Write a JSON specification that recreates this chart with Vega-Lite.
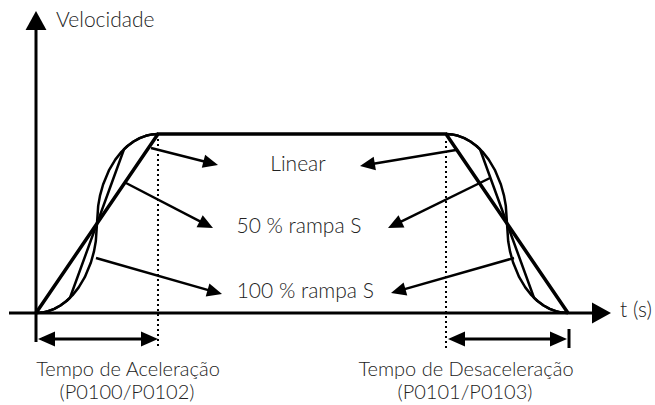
{
  "$schema": "https://vega.github.io/schema/vega-lite/v6.json",
  "width": 655,
  "height": 405,
  "padding": 0,
  "autosize": {"type": "fit", "contains": "padding"},
  "config": {"view": {"stroke": null}},
  "datasets": {
    "curves": [
      {"curve": "Linear", "i": 0, "t": 0, "v": 0},
      {"curve": "Linear", "i": 1, "t": 122, "v": 179},
      {"curve": "Linear", "i": 2, "t": 410, "v": 179},
      {"curve": "Linear", "i": 3, "t": 532, "v": 0},

      {"curve": "S100 acc", "i": 0, "t": 0, "v": 0},
      {"curve": "S100 acc", "i": 1, "t": 6.1, "v": 0.4},
      {"curve": "S100 acc", "i": 2, "t": 12.2, "v": 1.8},
      {"curve": "S100 acc", "i": 3, "t": 18.3, "v": 4.1},
      {"curve": "S100 acc", "i": 4, "t": 24.4, "v": 7.5},
      {"curve": "S100 acc", "i": 5, "t": 30.5, "v": 12},
      {"curve": "S100 acc", "i": 6, "t": 36.6, "v": 17.9},
      {"curve": "S100 acc", "i": 7, "t": 42.7, "v": 25.6},
      {"curve": "S100 acc", "i": 8, "t": 48.8, "v": 35.8},
      {"curve": "S100 acc", "i": 9, "t": 54.9, "v": 50.5},
      {"curve": "S100 acc", "i": 10, "t": 58, "v": 61.6},
      {"curve": "S100 acc", "i": 11, "t": 59.8, "v": 71.7},
      {"curve": "S100 acc", "i": 12, "t": 61, "v": 89.5},
      {"curve": "S100 acc", "i": 13, "t": 62.2, "v": 107.3},
      {"curve": "S100 acc", "i": 14, "t": 64, "v": 117.4},
      {"curve": "S100 acc", "i": 15, "t": 67.1, "v": 128.5},
      {"curve": "S100 acc", "i": 16, "t": 73.2, "v": 143.2},
      {"curve": "S100 acc", "i": 17, "t": 79.3, "v": 153.4},
      {"curve": "S100 acc", "i": 18, "t": 85.4, "v": 161.1},
      {"curve": "S100 acc", "i": 19, "t": 91.5, "v": 167},
      {"curve": "S100 acc", "i": 20, "t": 97.6, "v": 171.5},
      {"curve": "S100 acc", "i": 21, "t": 103.7, "v": 174.9},
      {"curve": "S100 acc", "i": 22, "t": 109.8, "v": 177.2},
      {"curve": "S100 acc", "i": 23, "t": 115.9, "v": 178.6},
      {"curve": "S100 acc", "i": 24, "t": 122, "v": 179},

      {"curve": "S100 dec", "i": 0, "t": 532, "v": 0},
      {"curve": "S100 dec", "i": 1, "t": 525.9, "v": 0.4},
      {"curve": "S100 dec", "i": 2, "t": 519.8, "v": 1.8},
      {"curve": "S100 dec", "i": 3, "t": 513.7, "v": 4.1},
      {"curve": "S100 dec", "i": 4, "t": 507.6, "v": 7.5},
      {"curve": "S100 dec", "i": 5, "t": 501.5, "v": 12},
      {"curve": "S100 dec", "i": 6, "t": 495.4, "v": 17.9},
      {"curve": "S100 dec", "i": 7, "t": 489.3, "v": 25.6},
      {"curve": "S100 dec", "i": 8, "t": 483.2, "v": 35.8},
      {"curve": "S100 dec", "i": 9, "t": 477.1, "v": 50.5},
      {"curve": "S100 dec", "i": 10, "t": 474, "v": 61.6},
      {"curve": "S100 dec", "i": 11, "t": 472.2, "v": 71.7},
      {"curve": "S100 dec", "i": 12, "t": 471, "v": 89.5},
      {"curve": "S100 dec", "i": 13, "t": 469.8, "v": 107.3},
      {"curve": "S100 dec", "i": 14, "t": 468, "v": 117.4},
      {"curve": "S100 dec", "i": 15, "t": 464.9, "v": 128.5},
      {"curve": "S100 dec", "i": 16, "t": 458.8, "v": 143.2},
      {"curve": "S100 dec", "i": 17, "t": 452.7, "v": 153.4},
      {"curve": "S100 dec", "i": 18, "t": 446.6, "v": 161.1},
      {"curve": "S100 dec", "i": 19, "t": 440.5, "v": 167},
      {"curve": "S100 dec", "i": 20, "t": 434.4, "v": 171.5},
      {"curve": "S100 dec", "i": 21, "t": 428.3, "v": 174.9},
      {"curve": "S100 dec", "i": 22, "t": 422.2, "v": 177.2},
      {"curve": "S100 dec", "i": 23, "t": 416.1, "v": 178.6},
      {"curve": "S100 dec", "i": 24, "t": 410, "v": 179},

      {"curve": "S50 acc", "i": 0, "t": 0, "v": 0},
      {"curve": "S50 acc", "i": 1, "t": 6.1, "v": 0.4},
      {"curve": "S50 acc", "i": 2, "t": 12.2, "v": 1.8},
      {"curve": "S50 acc", "i": 3, "t": 18.3, "v": 4.1},
      {"curve": "S50 acc", "i": 4, "t": 24.4, "v": 7.5},
      {"curve": "S50 acc", "i": 5, "t": 30.5, "v": 12},
      {"curve": "S50 acc", "i": 6, "t": 34, "v": 15.2},
      {"curve": "S50 acc", "i": 7, "t": 88, "v": 163.8},
      {"curve": "S50 acc", "i": 8, "t": 91.5, "v": 167},
      {"curve": "S50 acc", "i": 9, "t": 97.6, "v": 171.5},
      {"curve": "S50 acc", "i": 10, "t": 103.7, "v": 174.9},
      {"curve": "S50 acc", "i": 11, "t": 109.8, "v": 177.2},
      {"curve": "S50 acc", "i": 12, "t": 115.9, "v": 178.6},
      {"curve": "S50 acc", "i": 13, "t": 122, "v": 179},

      {"curve": "S50 dec", "i": 0, "t": 532, "v": 0},
      {"curve": "S50 dec", "i": 1, "t": 525.9, "v": 0.4},
      {"curve": "S50 dec", "i": 2, "t": 519.8, "v": 1.8},
      {"curve": "S50 dec", "i": 3, "t": 513.7, "v": 4.1},
      {"curve": "S50 dec", "i": 4, "t": 507.6, "v": 7.5},
      {"curve": "S50 dec", "i": 5, "t": 501.5, "v": 12},
      {"curve": "S50 dec", "i": 6, "t": 498, "v": 15.2},
      {"curve": "S50 dec", "i": 7, "t": 444, "v": 163.8},
      {"curve": "S50 dec", "i": 8, "t": 440.5, "v": 167},
      {"curve": "S50 dec", "i": 9, "t": 434.4, "v": 171.5},
      {"curve": "S50 dec", "i": 10, "t": 428.3, "v": 174.9},
      {"curve": "S50 dec", "i": 11, "t": 422.2, "v": 177.2},
      {"curve": "S50 dec", "i": 12, "t": 416.1, "v": 178.6},
      {"curve": "S50 dec", "i": 13, "t": 410, "v": 179}
    ],
    "frame": [
      {"part": "y axis", "t": 0, "v": -29, "t2": 0, "v2": 292},
      {"part": "x axis", "t": -27, "v": 0, "t2": 565, "v2": 0},
      {"part": "accel span", "t": 6, "v": -26, "t2": 116, "v2": -26},
      {"part": "decel span", "t": 418, "v": -26, "t2": 526, "v2": -26},
      {"part": "decel end", "t": 533, "v": -16, "t2": 533, "v2": -35}
    ],
    "dotted": [
      {"part": "accel end", "t": 122, "v": 179, "t2": 122, "v2": -34},
      {"part": "decel start", "t": 410, "v": 172, "t2": 410, "v2": -37}
    ],
    "leaders": [
      {"label": "Linear", "t": 115, "v": 165, "t2": 176.2, "v2": 149.5},
      {"label": "50 % rampa S", "t": 90, "v": 130, "t2": 171.7, "v2": 87.7},
      {"label": "100 % rampa S", "t": 60, "v": 55, "t2": 180.2, "v2": 20.6},
      {"label": "Linear", "t": 420, "v": 163, "t2": 329.9, "v2": 148},
      {"label": "50 % rampa S", "t": 454, "v": 135, "t2": 357.4, "v2": 87.6},
      {"label": "100 % rampa S", "t": 478, "v": 55, "t2": 360.8, "v2": 21.6}
    ],
    "axisHeads": [
      {"part": "y axis", "t": 0, "v": 302, "heading": 0},
      {"part": "x axis", "t": 575, "v": 0, "heading": 90}
    ],
    "spanHeads": [
      {"part": "accel start", "t": 2, "v": -26, "heading": 270},
      {"part": "accel end", "t": 122, "v": -26, "heading": 90},
      {"part": "decel start", "t": 412, "v": -26, "heading": 270},
      {"part": "decel end", "t": 531, "v": -26, "heading": 90}
    ],
    "leaderHeads": [
      {"label": "Linear", "t": 182, "v": 148, "heading": 104.2},
      {"label": "50 % rampa S", "t": 177, "v": 85, "heading": 117.1},
      {"label": "100 % rampa S", "t": 186, "v": 19, "heading": 105.9},
      {"label": "Linear", "t": 324, "v": 147, "heading": 260.5},
      {"label": "50 % rampa S", "t": 352, "v": 85, "heading": 243.9},
      {"label": "100 % rampa S", "t": 355, "v": 20, "heading": 254.2}
    ],
    "axisTitles": [
      {"text": "Velocidade", "t": 20, "v": 285.7},
      {"text": "t (s)", "t": 584, "v": -4}
    ],
    "labels": [
      {"text": "Linear", "t": 262, "v": 142.3},
      {"text": "50 % rampa S", "t": 263, "v": 79.7},
      {"text": "100 % rampa S", "t": 269.3, "v": 14.7}
    ],
    "spanLabels": [
      {"text": "Tempo de Aceleração", "t": 92, "v": -62.5},
      {"text": "(P0100/P0102)", "t": 91, "v": -86},
      {"text": "Tempo de Desaceleração", "t": 430, "v": -62.5},
      {"text": "(P0101/P0103)", "t": 429, "v": -86}
    ]
  },
  "layer": [
    {
      "data": {"name": "dotted"},
      "mark": {"type": "rule", "color": "black", "strokeWidth": 2, "strokeDash": [2, 3]},
      "encoding": {
        "x": {"field": "t", "type": "quantitative", "scale": {"domain": [-36, 619], "nice": false, "zero": false}, "axis": null},
        "y": {"field": "v", "type": "quantitative", "scale": {"domain": [-92, 313], "nice": false, "zero": false}, "axis": null},
        "x2": {"field": "t2"},
        "y2": {"field": "v2"}
      }
    },
    {
      "data": {"name": "frame"},
      "mark": {"type": "rule", "color": "black", "strokeWidth": 3},
      "encoding": {
        "x": {"field": "t", "type": "quantitative", "scale": {"domain": [-36, 619], "nice": false, "zero": false}, "axis": null},
        "y": {"field": "v", "type": "quantitative", "scale": {"domain": [-92, 313], "nice": false, "zero": false}, "axis": null},
        "x2": {"field": "t2"},
        "y2": {"field": "v2"}
      }
    },
    {
      "data": {"name": "curves"},
      "transform": [{"filter": "datum.curve !== 'Linear'"}],
      "mark": {"type": "line", "color": "black", "strokeWidth": 2.5, "strokeJoin": "round"},
      "encoding": {
        "x": {"field": "t", "type": "quantitative", "scale": {"domain": [-36, 619], "nice": false, "zero": false}, "axis": null},
        "y": {"field": "v", "type": "quantitative", "scale": {"domain": [-92, 313], "nice": false, "zero": false}, "axis": null},
        "detail": {"field": "curve"},
        "order": {"field": "i", "type": "quantitative"}
      }
    },
    {
      "data": {"name": "curves"},
      "transform": [{"filter": "datum.curve === 'Linear'"}],
      "mark": {"type": "line", "color": "black", "strokeWidth": 3.5, "strokeJoin": "miter"},
      "encoding": {
        "x": {"field": "t", "type": "quantitative", "scale": {"domain": [-36, 619], "nice": false, "zero": false}, "axis": null},
        "y": {"field": "v", "type": "quantitative", "scale": {"domain": [-92, 313], "nice": false, "zero": false}, "axis": null},
        "detail": {"field": "curve"},
        "order": {"field": "i", "type": "quantitative"}
      }
    },
    {
      "data": {"name": "leaders"},
      "mark": {"type": "rule", "color": "black", "strokeWidth": 2.5},
      "encoding": {
        "x": {"field": "t", "type": "quantitative", "scale": {"domain": [-36, 619], "nice": false, "zero": false}, "axis": null},
        "y": {"field": "v", "type": "quantitative", "scale": {"domain": [-92, 313], "nice": false, "zero": false}, "axis": null},
        "x2": {"field": "t2"},
        "y2": {"field": "v2"}
      }
    },
    {
      "data": {"name": "axisHeads"},
      "mark": {"type": "point", "shape": "M0,0L1.1,2L-1.1,2Z", "size": 361, "filled": true, "color": "black", "opacity": 1, "strokeWidth": 0},
      "encoding": {
        "x": {"field": "t", "type": "quantitative", "scale": {"domain": [-36, 619], "nice": false, "zero": false}, "axis": null},
        "y": {"field": "v", "type": "quantitative", "scale": {"domain": [-92, 313], "nice": false, "zero": false}, "axis": null},
        "angle": {"field": "heading", "type": "quantitative", "scale": null}
      }
    },
    {
      "data": {"name": "spanHeads"},
      "mark": {"type": "point", "shape": "M0,0L0.88,2L-0.88,2Z", "size": 289, "filled": true, "color": "black", "opacity": 1, "strokeWidth": 0},
      "encoding": {
        "x": {"field": "t", "type": "quantitative", "scale": {"domain": [-36, 619], "nice": false, "zero": false}, "axis": null},
        "y": {"field": "v", "type": "quantitative", "scale": {"domain": [-92, 313], "nice": false, "zero": false}, "axis": null},
        "angle": {"field": "heading", "type": "quantitative", "scale": null}
      }
    },
    {
      "data": {"name": "leaderHeads"},
      "mark": {"type": "point", "shape": "M0,0L0.9,2L-0.9,2Z", "size": 225, "filled": true, "color": "black", "opacity": 1, "strokeWidth": 0},
      "encoding": {
        "x": {"field": "t", "type": "quantitative", "scale": {"domain": [-36, 619], "nice": false, "zero": false}, "axis": null},
        "y": {"field": "v", "type": "quantitative", "scale": {"domain": [-92, 313], "nice": false, "zero": false}, "axis": null},
        "angle": {"field": "heading", "type": "quantitative", "scale": null}
      }
    },
    {
      "data": {"name": "axisTitles"},
      "mark": {"type": "text", "align": "left", "baseline": "alphabetic", "font": "Lato", "fontWeight": 300, "fontSize": 21, "color": "#222222"},
      "encoding": {
        "x": {"field": "t", "type": "quantitative", "scale": {"domain": [-36, 619], "nice": false, "zero": false}, "axis": null},
        "y": {"field": "v", "type": "quantitative", "scale": {"domain": [-92, 313], "nice": false, "zero": false}, "axis": null},
        "text": {"field": "text"}
      }
    },
    {
      "data": {"name": "labels"},
      "mark": {"type": "text", "align": "center", "baseline": "alphabetic", "font": "Lato", "fontWeight": 300, "fontSize": 21, "color": "#222222"},
      "encoding": {
        "x": {"field": "t", "type": "quantitative", "scale": {"domain": [-36, 619], "nice": false, "zero": false}, "axis": null},
        "y": {"field": "v", "type": "quantitative", "scale": {"domain": [-92, 313], "nice": false, "zero": false}, "axis": null},
        "text": {"field": "text"}
      }
    },
    {
      "data": {"name": "spanLabels"},
      "mark": {"type": "text", "align": "center", "baseline": "alphabetic", "font": "Lato", "fontWeight": 300, "fontSize": 20, "color": "#222222"},
      "encoding": {
        "x": {"field": "t", "type": "quantitative", "scale": {"domain": [-36, 619], "nice": false, "zero": false}, "axis": null},
        "y": {"field": "v", "type": "quantitative", "scale": {"domain": [-92, 313], "nice": false, "zero": false}, "axis": null},
        "text": {"field": "text"}
      }
    }
  ]
}
